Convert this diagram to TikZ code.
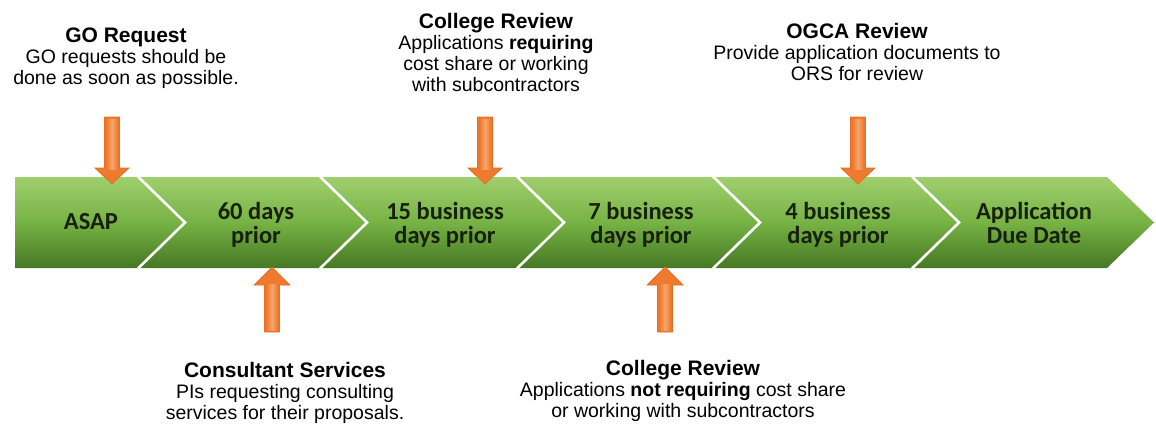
\documentclass[tikz,border=0pt]{standalone}
\usepackage{fontspec}
\setmainfont{Liberation Sans}
\newfontfamily\bandfont{Carlito}
\definecolor{gtop}{RGB}{160,207,110}
\definecolor{gmid}{RGB}{118,178,68}
\definecolor{gbot}{RGB}{70,120,36}
\definecolor{orgdark}{RGB}{238,122,46}
\definecolor{orglight}{RGB}{246,166,108}
\definecolor{orgedge}{RGB}{228,110,36}
\definecolor{bandtext}{RGB}{24,32,14}
\newcommand\stk[1]{\begin{tabular}[t]{@{}c@{}}#1\end{tabular}}
\tikzset{
  arrowfill/.style={draw=orgedge, line width=0.7pt, fill=orgdark},
  shaftfill/.style={top color=orgdark, bottom color=orglight, shading angle=0},
  downarr/.pic={\path[arrowfill] (-7.5,0) -- (7.5,0) -- (7.5,51) -- (17,51) -- (0,67) -- (-17,51) -- (-7.5,51) -- cycle;
     \path[left color=orgdark, right color=orgdark, middle color=orglight] (-5.5,2) rectangle (5.5,52);},
  uparr/.pic={\path[arrowfill] (0,0) -- (18,18) -- (7.5,18) -- (7.5,65) -- (-7.5,65) -- (-7.5,18) -- (-18,18) -- cycle;
     \path[left color=orgdark, right color=orgdark, middle color=orglight] (-5.5,17) rectangle (5.5,63);},
  sep/.style={draw=white, line width=2.6pt},
  bandtxt/.style={anchor=base, inner sep=0pt, text=bandtext, font=\bandfont\bfseries\fontsize{24.5}{24}\selectfont},
  note/.style={anchor=base, inner sep=0pt, text=black, font=\fontsize{19.5}{21}\selectfont}
}
\begin{document}
\begin{tikzpicture}[x=1pt,y=-1pt]
\useasboundingbox[fill=white] (0,0) rectangle (1156,423);
% band
\path[top color=gtop, bottom color=gbot, middle color=gmid]
  (15,177) -- (1107,177) -- (1154,222.5) -- (1107,268) -- (15,268) -- cycle;
\foreach \b in {138,320,517,713,912}{
  \draw[sep] (\b,176.5) -- (\b+47,222.5) -- (\b,268.5);
}
% band labels
\node[bandtxt] (asap) at (91,229) {ASAP};
\node[bandtxt] (d60) at (256,219) {\stk{60 days\\prior}};
\node[bandtxt] (d15) at (445,219) {\stk{15 business\\days prior}};
\node[bandtxt] (d7) at (641,219) {\stk{7 business\\days prior}};
\node[bandtxt] (d4) at (838,219) {\stk{4 business\\days prior}};
\node[bandtxt] (due) at (1034,219) {\stk{Application\\Due Date}};
% arrows
\pic at (112,117) {downarr};
\pic at (485,117) {downarr};
\pic at (858,117) {downarr};
\pic at (272,267) {uparr};
\pic at (665,267) {uparr};
% notes
\node[note] (go) at (126,42) {\stk{{\fontsize{21}{21}\selectfont\bfseries GO Request}\\GO requests should be\\done as soon as possible.}};
\node[note] (cr1) at (496,28) {\stk{{\fontsize{21}{21}\selectfont\bfseries College Review}\\Applications \textbf{requiring}\\cost share or working\\with subcontractors}};
\node[note] (ogca) at (857,38) {\stk{{\fontsize{21}{21}\selectfont\bfseries OGCA Review}\\Provide application documents to\\ORS for review}};
\node[note] (cons) at (285,377) {\stk{{\fontsize{21}{21}\selectfont\bfseries Consultant Services}\\PIs requesting consulting\\services for their proposals.}};
\node[note] (cr2) at (683,375) {\stk{{\fontsize{21}{21}\selectfont\bfseries College Review}\\Applications \textbf{not requiring} cost share\\or working with subcontractors}};
\end{tikzpicture}
\end{document}
